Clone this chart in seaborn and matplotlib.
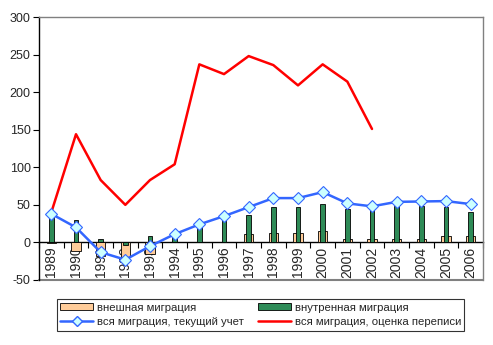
import numpy as np
import pandas as pd
import matplotlib
matplotlib.use("Agg")
import matplotlib.pyplot as plt
import seaborn as sns
from matplotlib.patches import Patch
from matplotlib.lines import Line2D

years = ["1989", "1990", "1991", "1992", "1993", "1994", "1995", "1996", "1997",
         "1998", "1999", "2000", "2001", "2002", "2003", "2004", "2005", "2006"]
external = [-1, -11, -18, -20, -15, 0, 1, 1, 11, 12, 12, 15, 5, 4, 5, 5, 8, 8]
internal = [38, 30, 4, -4, 8, 11, 23, 34, 36, 47, 47, 51, 45, 43, 48, 48, 47, 41]
total_current = [38, 20, -13, -23, -5, 11, 24, 35, 47, 59, 59, 67, 52, 48, 54, 54.5, 55, 51]
total_census = [40, 144, 83, 50, 83, 104, 237, 224, 248, 236, 209, 237, 214, 151,
                np.nan, np.nan, np.nan, np.nan]
yticks = [-50, 0, 50, 100, 150, 200, 250, 300]

lab_ext = "внешная миграция"
lab_int = "внутренная миграция"
lab_cur = "вся миграция, текущий учет"
lab_cen = "вся миграция, оценка переписи"

c_ext = "#FFCC99"
c_int = "#2E8B57"
c_cur = "#3366FF"
c_cen = "#FF0000"

df = pd.DataFrame({"year": years, "ext": external, "int": internal,
                   "cur": total_current, "cen": total_census})
df["pos"] = np.arange(len(years))

sns.set_theme(style="white")
plt.rcParams["font.family"] = ["Liberation Sans", "DejaVu Sans"]

fig = plt.figure(figsize=(4.93, 3.45), dpi=100)
ax = fig.add_axes([39 / 493, 1 - 280 / 345, 444 / 493, 263 / 345])

sns.barplot(data=df, x="pos", y="ext", color=c_ext, width=0.38, saturation=1,
            edgecolor="black", linewidth=0.6, ax=ax, zorder=3)
sns.barplot(data=df, x="pos", y="int", color=c_int, width=0.18, saturation=1,
            edgecolor="black", linewidth=0.6, ax=ax, zorder=4)
sns.lineplot(data=df, x="pos", y="cen", color=c_cen, linewidth=1.8, ax=ax, zorder=5)
sns.lineplot(data=df, x="pos", y="cur", color=c_cur, linewidth=1.8, marker="D",
             markersize=6.5, markerfacecolor="#CCFFFF", markeredgecolor=c_cur,
             markeredgewidth=0.8, ax=ax, zorder=6)

ax.set_xlim(-0.5, len(years) - 0.5)
ax.set_ylim(-50, 300)
ax.set_yticks(yticks)
ax.set_yticklabels([str(v) for v in yticks], fontsize=9)
ax.set_xlabel("")
ax.set_ylabel("")

# x axis at zero: major ticks at boundaries, labels at centers
ax.spines["bottom"].set_position(("data", 0))
ax.spines["bottom"].set_color("black")
ax.spines["bottom"].set_linewidth(1.0)
ax.spines["bottom"].set_zorder(2)
ax.set_xticks(np.arange(len(years) + 1) - 0.5)
ax.set_xticklabels([""] * (len(years) + 1))
ax.set_xticks(np.arange(len(years)), minor=True)
ax.set_xticklabels(years, minor=True, rotation=90, fontsize=10, va="top")
ax.tick_params(axis="x", which="major", direction="out", length=4, width=0.8,
               color="black", bottom=True)
ax.tick_params(axis="x", which="minor", length=0, pad=3, bottom=True)
ax.tick_params(axis="y", direction="out", length=4, width=0.8, color="black",
               left=True, pad=2)
ax.set_axisbelow(True)

ax.spines["left"].set_color("black")
ax.spines["left"].set_linewidth(1.0)
for s in ["top", "right"]:
    ax.spines[s].set_color("#808080")
    ax.spines[s].set_linewidth(1.0)
ax.axhline(-50, color="#808080", linewidth=1.5, zorder=1, clip_on=False)
ax.grid(False)

handles = [
    Patch(facecolor=c_ext, edgecolor="black", linewidth=0.6, label=lab_ext),
    Line2D([], [], color=c_cur, linewidth=1.8, marker="D", markersize=5.5,
           markerfacecolor="#CCFFFF", markeredgecolor=c_cur, label=lab_cur),
    Patch(facecolor=c_int, edgecolor="black", linewidth=0.6, label=lab_int),
    Line2D([], [], color=c_cen, linewidth=1.8, label=lab_cen),
]
leg = fig.legend(handles=handles, ncol=2, loc="center",
                 bbox_to_anchor=(260.5 / 493, 1 - 315 / 345),
                 fontsize=8.2, frameon=True, fancybox=False, edgecolor="black",
                 handlelength=2.9, handleheight=0.6, handletextpad=0.35,
                 columnspacing=1.2, borderpad=0.3, labelspacing=0.4)
leg.get_frame().set_linewidth(0.8)

fig.savefig("out.png", dpi=100)
